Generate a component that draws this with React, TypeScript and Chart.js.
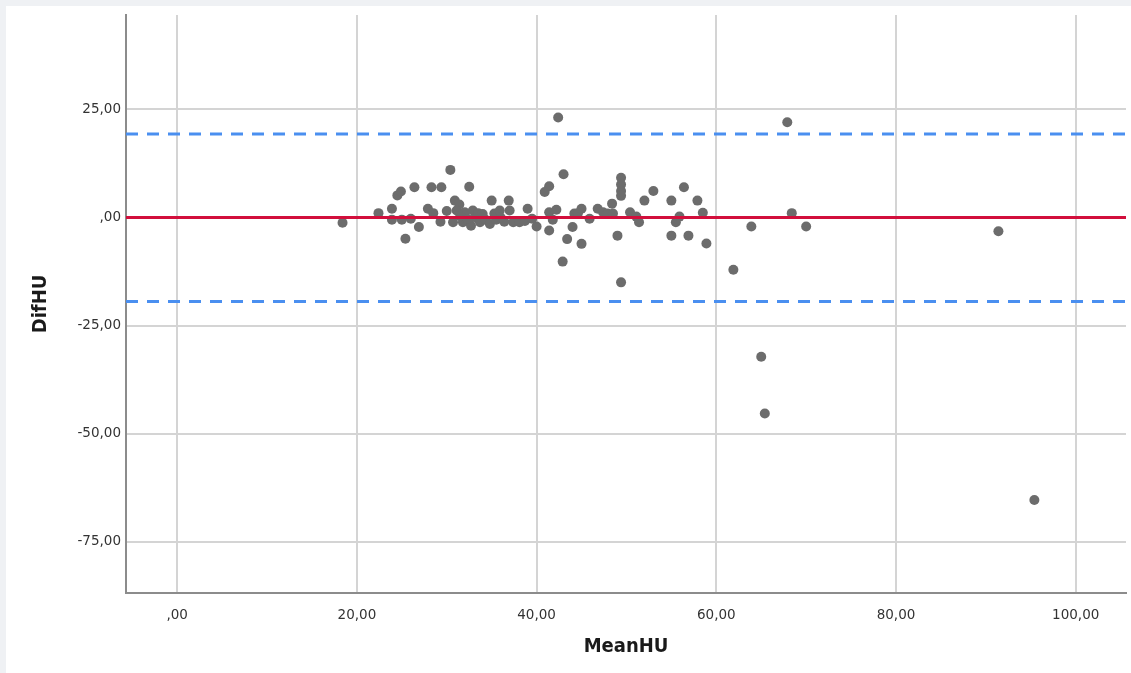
import React, { useEffect, useRef } from "react";
import { Chart, registerables } from "chart.js";

Chart.register(...registerables);

// Bland–Altman style scatter: mean of the two readings vs. their difference
const meanHU: number[] = [
  18.4, 22.4, 23.9, 23.9, 24.5, 24.9, 25.0, 25.4, 26.0, 26.4,
  26.9, 27.9, 28.3, 28.5, 29.4, 29.3, 30.0, 30.4, 30.9, 31.4,
  31.1, 30.7, 31.8, 32.0, 32.5, 32.7, 32.9, 33.2, 33.7, 34.3,
  35.0, 34.8, 35.3, 35.9, 35.5, 36.4, 36.9, 37.0, 37.4, 38.1,
  38.7, 39.0, 40.0, 39.5, 40.9, 41.4, 41.4, 42.2, 41.4, 41.8,
  42.4, 43.0, 42.9, 43.4, 44.0, 44.2, 44.6, 45.0, 45.0, 45.9,
  46.8, 47.4, 47.9, 48.4, 48.5, 49.0, 49.4, 49.4, 49.4, 49.4,
  49.4, 50.4, 51.1, 51.4, 52.0, 53.0, 55.0, 55.0, 55.5, 55.9,
  56.4, 56.9, 57.9, 58.5, 58.9, 61.9, 63.9, 65.0, 65.4, 67.9,
  68.4, 70.0, 91.4, 95.4, 33.5, 31.5, 34.0, 36.0, 32.3,
];

const difHU: number[] = [
  -1.2, 1.0, 2.0, -0.5, 5.1, 6.0, -0.5, -4.9, -0.3, 7.0,
  -2.2, 2.0, 7.0, 1.0, 7.0, -1.0, 1.5, 11.0, 3.9, 3.0,
  1.6, -1.1, -1.1, 1.2, 7.1, -1.9, 1.6, 0.0, -1.1, -0.5,
  3.9, -1.5, 0.9, 1.6, -0.5, -1.0, 3.9, 1.6, -1.1, -1.1,
  -0.8, 2.0, -2.1, -0.3, 5.9, 7.2, 1.2, 1.8, -3.0, -0.5,
  23.1, 10.0, -10.2, -5.0, -2.2, 0.9, 1.0, 2.0, -6.1, -0.3,
  2.0, 1.2, 0.9, 3.2, 0.9, -4.2, 9.2, 7.6, 6.1, 5.0,
  -15.0, 1.2, 0.2, -1.1, 3.9, 6.1, 3.9, -4.2, -1.1, 0.2,
  7.0, -4.2, 3.9, 1.1, -6.0, -12.1, -2.1, -32.2, -45.3, 22.0,
  1.0, -2.1, -3.2, -65.3, 1.0, 0.3, 0.8, 0.0, -0.3,
];

// Mean difference and limits of agreement
const meanDiff = 0;
const upperLimit = 19.3;
const lowerLimit = -19.4;

// Axis extents and tick labels
const xRange = [-5.7, 105.6];
const yRange = [-86.8, 46.8];
const xTickValues = [0, 20, 40, 60, 80, 100];
const xTickLabels = [",00", "20,00", "40,00", "60,00", "80,00", "100,00"];
const yTickValues = [-75, -50, -25, 0, 25];
const yTickLabels = ["-75,00", "-50,00", "-25,00", ",00", "25,00"];

const xTitle = "MeanHU";
const yTitle = "DifHU";

const tickFont = { family: "'DejaVu Sans', sans-serif", size: 13.5 };
const titleFont = {
  family: "'DejaVu Sans Condensed', 'DejaVu Sans', sans-serif",
  size: 20,
  weight: "bold" as const,
};

function hLine(y: number) {
  return [
    { x: xRange[0], y },
    { x: xRange[1], y },
  ];
}

export default function App() {
  const canvasRef = useRef<HTMLCanvasElement | null>(null);

  useEffect(() => {
    if (!canvasRef.current) return;
    const points = meanHU.map((m, i) => ({ x: m, y: difHU[i] }));

    const chart = new Chart(canvasRef.current, {
      type: "scatter",
      data: {
        datasets: [
          {
            type: "line",
            data: hLine(meanDiff),
            borderColor: "#d20f3c",
            borderWidth: 3,
            pointRadius: 0,
            order: 0,
          },
          {
            type: "line",
            data: hLine(upperLimit),
            borderColor: "#4a8ff0",
            borderWidth: 3,
            borderDash: [12, 9],
            pointRadius: 0,
            order: 1,
          },
          {
            type: "line",
            data: hLine(lowerLimit),
            borderColor: "#4a8ff0",
            borderWidth: 3,
            borderDash: [12, 9],
            pointRadius: 0,
            order: 1,
          },
          {
            data: points,
            backgroundColor: "#6c6c6c",
            borderWidth: 0,
            pointRadius: 5,
            order: 2,
          },
        ],
      },
      options: {
        responsive: false,
        animation: false,
        devicePixelRatio: 1,
        layout: { padding: { top: 15, right: 4, left: 0, bottom: 0 } },
        plugins: {
          legend: { display: false },
          tooltip: { enabled: false },
        },
        scales: {
          x: {
            type: "linear",
            min: xRange[0],
            max: xRange[1],
            afterFit: (s: any) => {
              s.height = 80;
            },
            afterBuildTicks: (s: any) => {
              s.ticks = xTickValues.map((v) => ({ value: v }));
            },
            ticks: {
              includeBounds: false,
              padding: 14,
              color: "#333333",
              font: tickFont,
              maxRotation: 0,
              callback: (v: any) => {
                const i = xTickValues.indexOf(Number(v));
                return i >= 0 ? xTickLabels[i] : "";
              },
            },
            grid: { color: "#d4d4d4", lineWidth: 2, drawTicks: false },
            border: { color: "#8c8c8c", width: 2 },
            title: {
              display: true,
              text: xTitle,
              color: "#1a1a1a",
              font: titleFont,
              padding: { top: 0, bottom: 14 },
            },
          },
          y: {
            type: "linear",
            min: yRange[0],
            max: yRange[1],
            afterFit: (s: any) => {
              s.width = 126;
            },
            afterBuildTicks: (s: any) => {
              s.ticks = yTickValues.map((v) => ({ value: v }));
            },
            ticks: {
              includeBounds: false,
              padding: 5,
              color: "#333333",
              font: tickFont,
              callback: (v: any) => {
                const i = yTickValues.indexOf(Number(v));
                return i >= 0 ? yTickLabels[i] : "";
              },
            },
            grid: { color: "#d4d4d4", lineWidth: 2, drawTicks: false },
            border: { color: "#8c8c8c", width: 2 },
            title: {
              display: true,
              text: yTitle,
              color: "#1a1a1a",
              font: titleFont,
              padding: { top: 29, bottom: 0 },
            },
          },
        },
      },
    } as any);

    return () => chart.destroy();
  }, []);

  return (
    <div
      style={{
        position: "fixed",
        left: 0,
        top: 0,
        width: "100vw",
        height: "100vh",
        minWidth: 1131,
        minHeight: 673,
        background: "#eff1f4",
        overflow: "hidden",
      }}
    >
      <div
        style={{
          position: "absolute",
          left: 6,
          top: 6,
          right: -20,
          bottom: -20,
          background: "#ffffff",
        }}
      />
      <canvas
        ref={canvasRef}
        width={1131}
        height={673}
        style={{ position: "absolute", left: 0, top: 0, width: 1131, height: 673 }}
      />
    </div>
  );
}
